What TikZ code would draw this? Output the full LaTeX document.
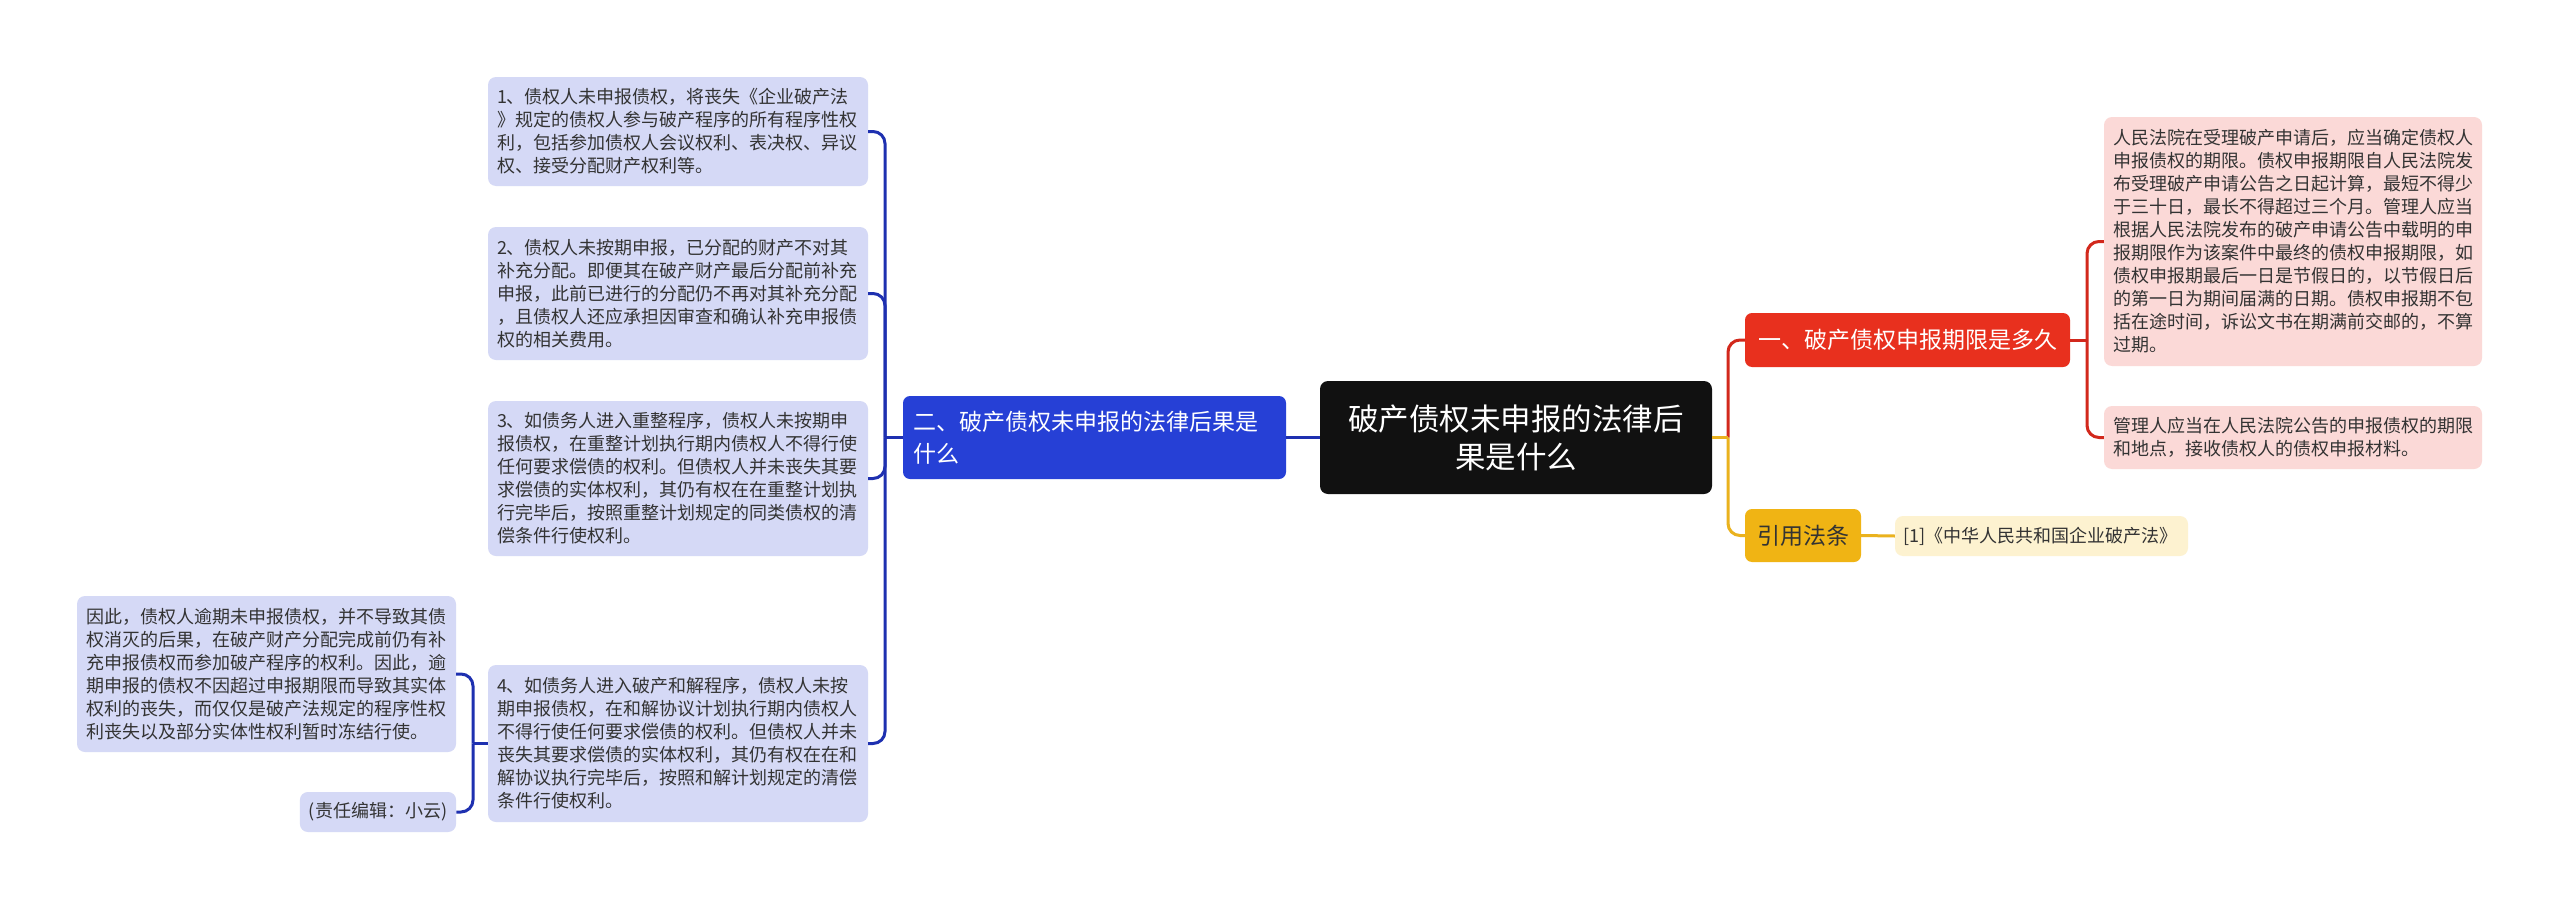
\documentclass[tikz,border=0pt]{standalone}
\usepackage{fontspec}
\setmainfont{Noto Sans CJK SC}
\definecolor{txt}{HTML}{333333}
\definecolor{lav}{RGB}{213,217,246}
\definecolor{pinkbg}{RGB}{251,217,215}
\definecolor{citebg}{RGB}{253,242,208}
\definecolor{rootbg}{HTML}{111111}
\definecolor{bluebg}{RGB}{38,64,214}
\definecolor{redbg}{RGB}{232,48,30}
\definecolor{yelbg}{RGB}{240,180,20}
\definecolor{bluel}{RGB}{30,48,176}
\definecolor{redl}{RGB}{210,40,28}
\definecolor{yell}{RGB}{234,178,30}
\begin{document}
\begin{tikzpicture}[x=1pt,y=-1pt,
  leaf/.style={fill=#1, rounded corners=8pt, text=txt, font=\fontsize{18}{23}\selectfont, align=left, inner xsep=9pt, inner ysep=0pt, anchor=center},
  topic/.style={fill=#1, rounded corners=7pt, font=\fontsize{23}{31.5}\selectfont, inner xsep=10pt, inner ysep=0pt, anchor=center},
  conn/.style={draw=#1, line width=3pt, rounded corners=12pt}
]
\useasboundingbox[fill=white] (0,0) rectangle (2560,910);

% root
\node[fill=rootbg, rounded corners=8pt, text=white, font=\fontsize{30.5}{38}\selectfont, align=center, minimum width=392pt, minimum height=113pt, inner sep=0pt] (root) at (1516,437.5) {破产债权未申报的法律后\\果是什么};

% main topics
\node[topic=bluebg, text=white, align=left, text width=363pt, minimum height=83pt] (blue) at (1094.5,437.5) {二、破产债权未申报的法律后果是\\什么};
\node[topic=redbg, text=white, align=center, minimum width=325pt, minimum height=54pt] (red) at (1907.5,340) {一、破产债权申报期限是多久};
\node[topic=yelbg, text=txt, align=center, minimum width=116pt, minimum height=53pt] (yel) at (1803,535.5) {引用法条};

% right leaves
\node[leaf=pinkbg, text width=360pt, minimum height=249pt] (p1) at (2293,241.5) {人民法院在受理破产申请后，应当确定债权人\\申报债权的期限。债权申报期限自人民法院发\\布受理破产申请公告之日起计算，最短不得少\\于三十日，最长不得超过三个月。管理人应当\\根据人民法院发布的破产申请公告中载明的申\\报期限作为该案件中最终的债权申报期限，如\\债权申报期最后一日是节假日的，以节假日后\\的第一日为期间届满的日期。债权申报期不包\\括在途时间，诉讼文书在期满前交邮的，不算\\过期。};
\node[leaf=pinkbg, text width=360pt, minimum height=63pt] (p2) at (2293,437.5) {管理人应当在人民法院公告的申报债权的期限\\和地点，接收债权人的债权申报材料。};
\node[leaf=citebg, text width=277pt, inner xsep=8pt, minimum height=40pt] (cite) at (2041.5,536) {[1]《中华人民共和国企业破产法》};

% left leaves
\node[leaf=lav, text width=362pt, minimum height=109pt] (b1) at (678,131.5) {1、债权人未申报债权，将丧失《企业破产法\\》规定的债权人参与破产程序的所有程序性权\\利，包括参加债权人会议权利、表决权、异议\\权、接受分配财产权利等。};
\node[leaf=lav, text width=362pt, minimum height=133pt] (b2) at (678,293.5) {2、债权人未按期申报，已分配的财产不对其\\补充分配。即便其在破产财产最后分配前补充\\申报，此前已进行的分配仍不再对其补充分配\\，且债权人还应承担因审查和确认补充申报债\\权的相关费用。};
\node[leaf=lav, text width=362pt, minimum height=155pt] (b3) at (678,478.5) {3、如债务人进入重整程序，债权人未按期申\\报债权，在重整计划执行期内债权人不得行使\\任何要求偿债的权利。但债权人并未丧失其要\\求偿债的实体权利，其仍有权在在重整计划执\\行完毕后，按照重整计划规定的同类债权的清\\偿条件行使权利。};
\node[leaf=lav, text width=362pt, minimum height=157pt] (b4) at (678,743.5) {4、如债务人进入破产和解程序，债权人未按\\期申报债权，在和解协议计划执行期内债权人\\不得行使任何要求偿债的权利。但债权人并未\\丧失其要求偿债的实体权利，其仍有权在在和\\解协议执行完毕后，按照和解计划规定的清偿\\条件行使权利。};
\node[leaf=lav, text width=361pt, minimum height=156pt] (b5) at (266.5,674) {因此，债权人逾期未申报债权，并不导致其债\\权消灭的后果，在破产财产分配完成前仍有补\\充申报债权而参加破产程序的权利。因此，逾\\期申报的债权不因超过申报期限而导致其实体\\权利的丧失，而仅仅是破产法规定的程序性权\\利丧失以及部分实体性权利暂时冻结行使。};
\node[leaf=lav, align=center, minimum width=156pt, minimum height=40pt] (b6) at (378,812) {(责任编辑：小云)};

% junctions
\coordinate (bj) at (885,437.5);
\coordinate (b4j) at (473,743.5);
\coordinate (rootj) at (1728,437.5);
\coordinate (rj) at (2087,340);

% blue connectors
\draw[conn=bluel] (root.west) -- (blue.east);
\draw[conn=bluel] (blue.west) -- (bj);
\draw[conn=bluel] (bj) |- (b1.east);
\draw[conn=bluel] (bj) |- (b2.east);
\draw[conn=bluel] (bj) |- (b3.east);
\draw[conn=bluel] (bj) |- (b4.east);
\draw[conn=bluel] (b4.west) -- (b4j);
\draw[conn=bluel] (b4j) |- (b5.east);
\draw[conn=bluel] (b4j) |- (b6.east);

% red connectors
\draw[conn=redl] (rootj) |- (red.west);
\draw[conn=redl] (red.east) -- (rj);
\draw[conn=redl] (rj) |- (p1.west);
\draw[conn=redl] (rj) |- (p2.west);

% yellow connectors
\draw[conn=yell] (root.east) -- (rootj);
\draw[conn=yell] (rootj) |- (yel.west);
\draw[conn=yell] (yel.east) -- (cite.west);
\end{tikzpicture}
\end{document}
